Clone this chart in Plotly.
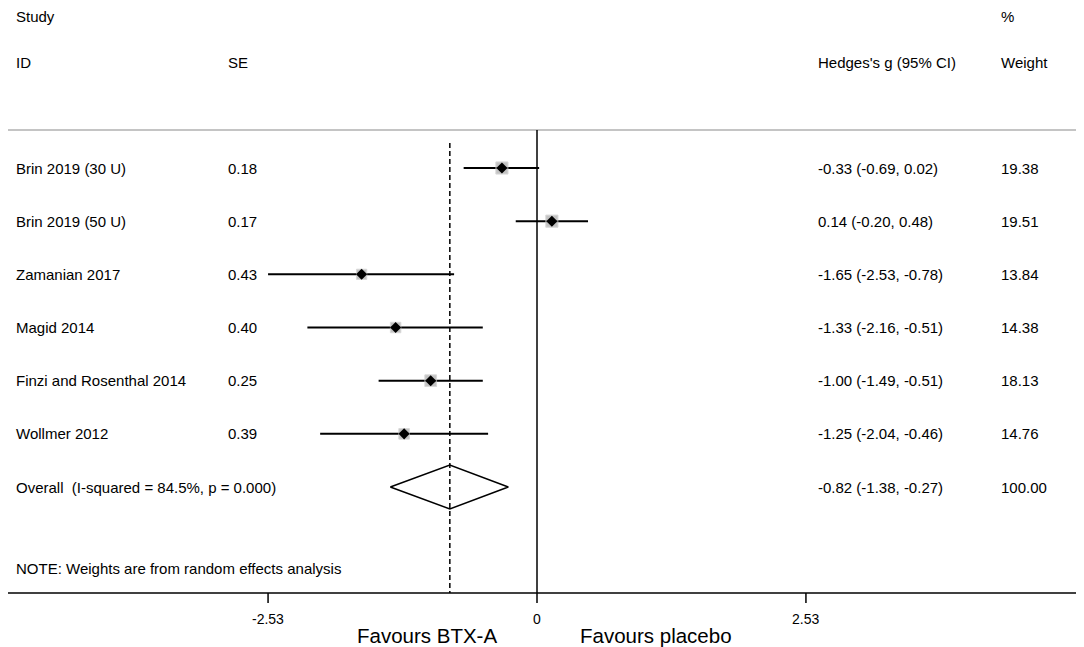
import numpy as np
import plotly.graph_objects as go

# data
studies = ["Brin 2019 (30 U)", "Brin 2019 (50 U)", "Zamanian 2017", "Magid 2014",
           "Finzi and Rosenthal 2014", "Wollmer 2012"]
se = [0.18, 0.17, 0.43, 0.40, 0.25, 0.39]
g = [-0.33, 0.14, -1.65, -1.33, -1.00, -1.25]
ci_low = [-0.69, -0.20, -2.53, -2.16, -1.49, -2.04]
ci_high = [0.02, 0.48, -0.78, -0.51, -0.51, -0.46]
weight = [19.38, 19.51, 13.84, 14.38, 18.13, 14.76]

overall_label = "Overall  (I-squared = 84.5%, p = 0.000)"
overall_g = -0.82
overall_low = -1.38
overall_high = -0.27
overall_weight = 100.00

tick_vals = [-2.53, 0, 2.53]
tick_text = ["-2.53", "0", "2.53"]

# the page body has an 8px margin, so the figure is a bit smaller than the window
OFF = 8
WIN_W, WIN_H = 1084, 647
W, H = WIN_W - OFF, WIN_H - OFF
FONT = "Liberation Sans, Arial, sans-serif"

# rows are 53.17 px apart, first row at 168 px (window pixels)
ROW0, STEP = 168, 53.17
y_top = (OFF - ROW0) / STEP
y_bot = (WIN_H - ROW0) / STEP

# x scale: 0 at 537 px, 106.3 px per unit
X0, PXU = 537, 106.3
x_min = (OFF - X0) / PXU
x_max = (WIN_W - X0) / PXU


def py(px):
    return 1 - (px - OFF) / H


def px_x(px):
    return (px - OFF) / W


rows = list(range(len(studies)))
overall_row = len(studies)

fig = go.Figure()

# confidence interval lines
xs, ys = [], []
for r, lo, hi in zip(rows, ci_low, ci_high):
    xs += [lo, hi, None]
    ys += [r, r, None]
fig.add_trace(go.Scatter(x=xs, y=ys, mode="lines",
                         line=dict(color="black", width=2), hoverinfo="skip"))

# weight boxes
fig.add_trace(go.Scatter(x=g, y=rows, mode="markers",
                         marker=dict(symbol="square", color="#a9a9a9",
                                     size=[2.75 * np.sqrt(w) for w in weight],
                                     line=dict(color="#c8c8c8", width=1)),
                         hoverinfo="skip"))
# point estimates
fig.add_trace(go.Scatter(x=g, y=rows, mode="markers",
                         marker=dict(symbol="diamond", color="black", size=8.5),
                         hoverinfo="skip"))

# overall diamond
h = 22 / STEP
fig.add_trace(go.Scatter(x=[overall_low, overall_g, overall_high, overall_g, overall_low],
                         y=[overall_row, overall_row - h, overall_row, overall_row + h, overall_row],
                         mode="lines", fill="toself", fillcolor="white",
                         line=dict(color="black", width=1.5), hoverinfo="skip"))

shapes = []
# header separator
shapes.append(dict(type="line", xref="paper", yref="paper", x0=0, x1=1,
                   y0=py(130), y1=py(130), line=dict(color="#b0b0b0", width=1.5)))
# x axis line
shapes.append(dict(type="line", xref="paper", yref="paper", x0=0, x1=1,
                   y0=py(593), y1=py(593), line=dict(color="black", width=1.5)))
# null line
shapes.append(dict(type="line", xref="x", yref="paper", x0=0, x1=0,
                   y0=py(130), y1=py(593), line=dict(color="black", width=1.5)))
# overall effect dashed line
shapes.append(dict(type="line", xref="x", yref="paper", x0=overall_g, x1=overall_g,
                   y0=py(143), y1=py(593), line=dict(color="black", width=1.5, dash="5px,3px")))
for tv in tick_vals:
    shapes.append(dict(type="line", xref="x", yref="paper", x0=tv, x1=tv,
                       y0=py(593), y1=py(603), line=dict(color="black", width=1.5)))

ann = []


def txt(x, y, s, size=15, xref="paper", yref="paper", xanchor="left"):
    ann.append(dict(x=x, y=y, xref=xref, yref=yref, text=s, showarrow=False,
                    xanchor=xanchor, yanchor="middle",
                    font=dict(family=FONT, size=size, color="black")))


# headers
txt(px_x(14), py(17), "Study")
txt(px_x(999), py(17), "%")
txt(px_x(14), py(62), "ID")
txt(px_x(226), py(62), "SE")
txt(px_x(816), py(62), "Hedges's g (95% CI)")
txt(px_x(999), py(62), "Weight")

for r, s, e, gg, lo, hi, w in zip(rows, studies, se, g, ci_low, ci_high, weight):
    txt(px_x(14), r, s, yref="y")
    txt(px_x(226), r, f"{e:.2f}", yref="y")
    txt(px_x(816), r, f"{gg:.2f} ({lo:.2f}, {hi:.2f})", yref="y")
    txt(px_x(999), r, f"{w:.2f}", yref="y")

txt(px_x(14), overall_row, overall_label, yref="y")
txt(px_x(816), overall_row, f"{overall_g:.2f} ({overall_low:.2f}, {overall_high:.2f})", yref="y")
txt(px_x(999), overall_row, f"{overall_weight:.2f}", yref="y")

txt(px_x(14), py(568), "NOTE: Weights are from random effects analysis")

for tv, tt in zip(tick_vals, tick_text):
    txt(tv, py(619), tt, size=14, xref="x", xanchor="center")

txt(px_x(499), py(635), "Favours BTX-A", size=20.5, xanchor="right")
txt(px_x(578), py(635), "Favours placebo", size=20.5)

fig.update_layout(
    width=W, height=H,
    margin=dict(l=0, r=0, t=0, b=0),
    paper_bgcolor="white", plot_bgcolor="white",
    showlegend=False,
    xaxis=dict(range=[x_min, x_max], visible=False, fixedrange=True),
    yaxis=dict(range=[y_bot, y_top], visible=False, fixedrange=True),
    shapes=shapes, annotations=ann,
)

fig.write_html("out.html")
